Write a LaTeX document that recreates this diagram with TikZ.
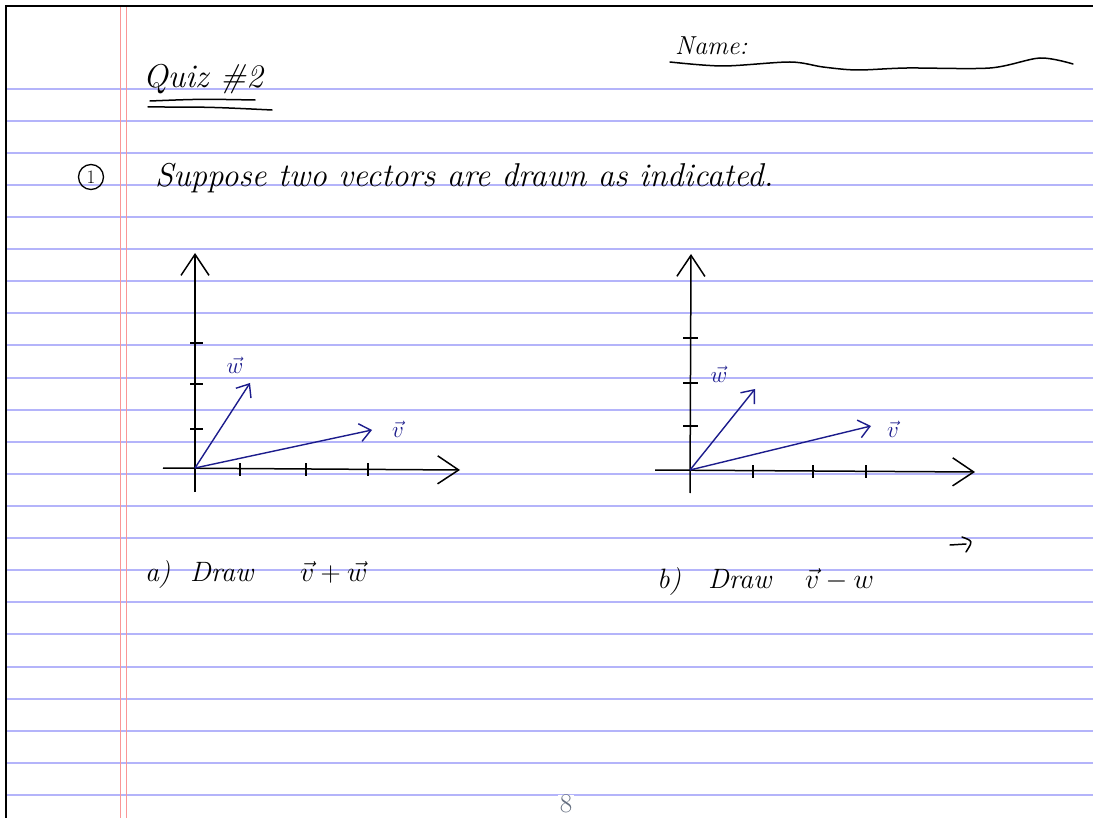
\RequirePackage{fix-cm}
\documentclass[tikz,border=0pt]{standalone}
\usepackage{fontspec}
\setmainfont{Latin Modern Roman}
\usepackage{xcolor}
\usepackage{tikz}
\usetikzlibrary{arrows.meta,positioning}
\definecolor{ruleblue}{RGB}{180,180,250}
\definecolor{marginred}{RGB}{250,150,150}
\definecolor{inkblue}{RGB}{28,28,140}
\definecolor{pagegray}{RGB}{100,110,128}

\begin{document}
\begin{tikzpicture}[
  x=1pt, y=-1pt,
  hand/.style={font=\fontsize{28}{32}\selectfont\itshape, inner sep=0pt, anchor=base west},
  rule/.style={ruleblue, line width=1.6pt},
  margin/.style={marginred, line width=0.8pt},
  axis/.style={line width=1.5pt, -{Straight Barb[length=21pt,width=28pt]}},
  tick/.style={line width=1.5pt},
  vec/.style={inkblue, line width=1.4pt, -{Straight Barb[length=11pt,width=18pt]}},
  veclabel/.style={inkblue, font=\fontsize{23}{25}\selectfont, inner sep=0pt},
  ink/.style={line width=1.5pt, line cap=round}
]
  \fill[white] (0,0) rectangle (1093,818);
  \useasboundingbox (0,0) rectangle (1093,818);

  \foreach \ry in {89,121,153,185,217,249,281,313,345,378,410,442,474,506,538,570,602,634,667,699,731,763,795}
    \draw[rule] (6,\ry) -- (1093,\ry);
  \draw[margin] (120,6) -- (120,818);
  \draw[margin] (126,6) -- (126,818);
  \draw[line width=1.2pt] (6,818) -- (6,6) -- (1093,6);

  \node[hand, font=\fontsize{33}{36}\selectfont\itshape] (title) at (143,88) {Quiz \#2};
  \draw[ink] (150,101) .. controls (200,99) .. (255,100);
  \draw[ink] (148,107) .. controls (210,107) .. (272,110);

  \node[hand, font=\fontsize{26}{30}\selectfont\itshape] (name) at (675,55) {Name:};
  \draw[ink] plot[smooth] coordinates {(670,62) (723,66) (790,62) (823,67) (857,70) (907,68) (990,68) (1040,58) (1073,64)};

  \node[draw, circle, line width=1.3pt, minimum size=25pt, inner sep=0pt, font=\fontsize{19}{19}\selectfont] (qnum) at (91,177) {1};
  \node[hand, font=\fontsize{33}{36}\selectfont\itshape] (prompt) at (155,187) {Suppose two vectors are drawn as indicated.};

  \coordinate (oa) at (195,468);
  \coordinate (ya0) at (195,492);
  \coordinate (ya1) at (195,253);
  \coordinate (xa0) at (163,468);
  \coordinate (xa1) at (460,470);
  \coordinate (wa) at (250,383);
  \coordinate (va) at (372,430);
  \draw[axis] (ya0) -- (ya1);
  \draw[axis] (xa0) -- (xa1);
  \foreach \t in {240,306,368}
    \draw[tick] (\t,463) -- (\t,476);
  \foreach \t in {429,384,343}
    \draw[tick] (190,\t) -- (203,\t);
  \draw[vec] (oa) -- (wa);
  \draw[vec] (oa) -- (va);
  \node[veclabel] (wlaba) at (235,365) {$\vec{w}$};
  \node[veclabel] (vlaba) at (398,429) {$\vec{v}$};

  \coordinate (ob) at (690,470);
  \coordinate (yb0) at (690,493);
  \coordinate (yb1) at (691,254);
  \coordinate (xb0) at (655,470);
  \coordinate (xb1) at (975,472);
  \coordinate (wb) at (755,389);
  \coordinate (vb) at (871,426);
  \draw[axis] (yb0) -- (yb1);
  \draw[axis] (xb0) -- (xb1);
  \foreach \t in {753,813,866}
    \draw[tick] (\t,465) -- (\t,478);
  \foreach \t in {426,383,338}
    \draw[tick] (683,\t) -- (698,\t);
  \draw[vec] (ob) -- (wb);
  \draw[vec] (ob) -- (vb);
  \node[veclabel] (wlabb) at (719,374) {$\vec{w}$};
  \node[veclabel] (vlabb) at (893,429) {$\vec{v}$};

  \node[hand] (parta) at (145,581) {a)};
  \node[hand] (drawa) at (190,581) {Draw};
  \node[hand] (suma) at (300,581) {$\vec{v}+\vec{w}$};

  \node[hand] (partb) at (657,588) {b)};
  \node[hand] (drawb) at (708,588) {Draw};
  \node[hand] (diffb) at (805,588) {$\vec{v}-w$};
  \draw[ink] (950,545) -- (966,544);
  \draw[ink] (962,537) .. controls (973,541) .. (966,552);

  \node[fill=white, text=pagegray, font=\fontsize{27}{27}\selectfont, inner xsep=2pt, inner ysep=0pt] (pagenum) at (566,804) {8};
\end{tikzpicture}
\end{document}
